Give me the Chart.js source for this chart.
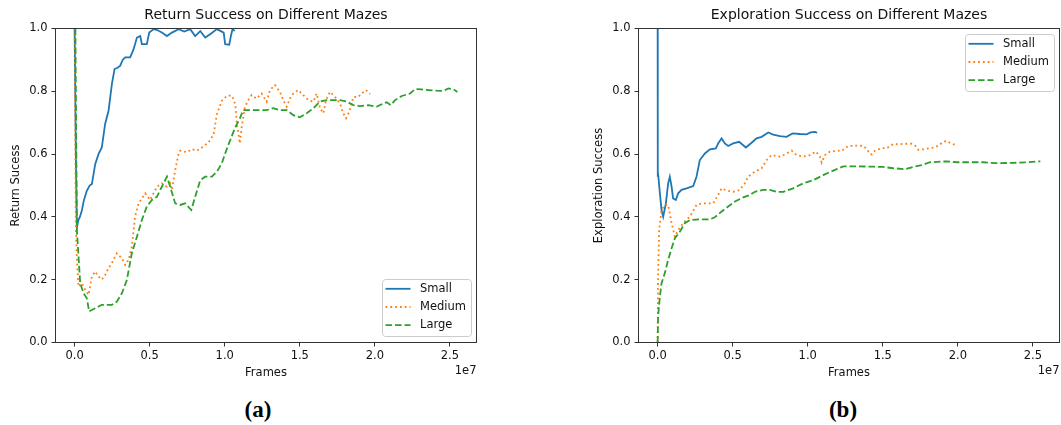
<!DOCTYPE html>
<html>
<head>
<meta charset="utf-8">
<script src="https://cdn.jsdelivr.net/npm/chart.js@4"></script>
<style>
    html, body { margin: 0; padding: 0; background: #fff; }
    body { width: 1061px; height: 425px; position: relative; overflow: hidden; }
    .panel { position: absolute; top: 0; height: 395px; }
    .caption {
        position: absolute; top: 396px; width: 60px; margin-left: -30px;
        text-align: center; font-family: 'Liberation Serif', serif; font-weight: bold;
        font-size: 23px; line-height: 28px; color: #000;
    }
</style>
</head>
<body>
<div class="panel" style="left:0;width:530px"><canvas id="returnChart" width="530" height="395"></canvas></div>
<div class="panel" style="left:530px;width:531px"><canvas id="exploreChart" width="531" height="395"></canvas></div>
<div class="caption" style="left:258px">(a)</div>
<div class="caption" style="left:843px">(b)</div>
<script>
// x values are frames in units of 1e7
const X_TICKS = [0, 0.5, 1.0, 1.5, 2.0, 2.5];
const Y_TICKS = [0, 0.2, 0.4, 0.6, 0.8, 1.0];
const SERIES_NAMES = ["Small", "Medium", "Large"];

const RET_SMALL = [
    [0, 1.0], [0.008, 0.6], [0.015, 0.367], [0.025, 0.39], [0.035, 0.40], [0.048, 0.42], [0.06, 0.45],
    [0.081, 0.483], [0.1, 0.50], [0.115, 0.505], [0.137, 0.568], [0.159, 0.60], [0.181, 0.621],
    [0.203, 0.696], [0.226, 0.738], [0.248, 0.823], [0.266, 0.871], [0.285, 0.875], [0.303, 0.881],
    [0.32, 0.90], [0.337, 0.908], [0.37, 0.908], [0.393, 0.934], [0.415, 0.971], [0.437, 0.976],
    [0.448, 0.95], [0.481, 0.95], [0.497, 0.987], [0.526, 0.998], [0.55, 0.995], [0.581, 0.987],
    [0.615, 0.976], [0.648, 0.987], [0.693, 0.998], [0.73, 0.99], [0.77, 0.998], [0.803, 0.976],
    [0.837, 0.992], [0.87, 0.971], [0.903, 0.982], [0.948, 0.998], [0.993, 0.987], [1.003, 0.95],
    [1.03, 0.948], [1.041, 0.976], [1.052, 0.998], [1.066, 0.992],
];
const RET_MEDIUM = [
    [0, 1.0], [0.008, 0.369], [0.015, 0.263], [0.026, 0.178], [0.048, 0.189], [0.07, 0.168],
    [0.093, 0.152], [0.115, 0.21], [0.137, 0.226], [0.159, 0.21], [0.181, 0.2], [0.203, 0.215],
    [0.226, 0.237], [0.248, 0.253], [0.281, 0.284], [0.315, 0.268], [0.337, 0.247], [0.359, 0.263],
    [0.381, 0.305], [0.403, 0.401], [0.426, 0.443], [0.47, 0.475], [0.503, 0.454], [0.548, 0.496],
    [0.581, 0.507], [0.615, 0.496], [0.637, 0.507], [0.648, 0.486], [0.67, 0.549], [0.693, 0.602],
    [0.703, 0.611], [0.748, 0.606], [0.781, 0.616], [0.815, 0.611], [0.848, 0.621], [0.893, 0.637],
    [0.926, 0.664], [0.948, 0.728], [0.981, 0.77], [1.015, 0.786], [1.048, 0.786], [1.07, 0.759],
    [1.081, 0.696], [1.101, 0.634], [1.113, 0.687], [1.135, 0.751], [1.157, 0.772], [1.179, 0.788],
    [1.213, 0.777], [1.246, 0.793], [1.279, 0.767], [1.301, 0.804], [1.335, 0.82], [1.368, 0.798],
    [1.39, 0.772], [1.413, 0.751], [1.435, 0.777], [1.457, 0.793], [1.49, 0.804], [1.523, 0.788],
    [1.557, 0.772], [1.59, 0.767], [1.613, 0.793], [1.635, 0.746], [1.657, 0.73], [1.675, 0.772],
    [1.701, 0.798], [1.735, 0.782], [1.768, 0.761], [1.79, 0.73], [1.808, 0.714], [1.83, 0.735],
    [1.857, 0.782], [1.89, 0.782], [1.913, 0.793], [1.941, 0.804], [1.968, 0.791],
];
const RET_LARGE = [
    [0.005, 1.0], [0.015, 0.358], [0.037, 0.189], [0.059, 0.157], [0.081, 0.141], [0.097, 0.099],
    [0.137, 0.109], [0.181, 0.12], [0.248, 0.12], [0.281, 0.13], [0.315, 0.157], [0.348, 0.199],
    [0.381, 0.284], [0.415, 0.337], [0.448, 0.39], [0.481, 0.433], [0.515, 0.454], [0.548, 0.464],
    [0.581, 0.496], [0.615, 0.528], [0.637, 0.496], [0.67, 0.443], [0.703, 0.438], [0.737, 0.443],
    [0.777, 0.422], [0.803, 0.464], [0.837, 0.517], [0.87, 0.528], [0.915, 0.528], [0.948, 0.544],
    [0.981, 0.571], [1.003, 0.602], [1.026, 0.632], [1.07, 0.685], [1.101, 0.714], [1.123, 0.74],
    [1.168, 0.74], [1.235, 0.74], [1.279, 0.74], [1.323, 0.746], [1.368, 0.74], [1.413, 0.74],
    [1.457, 0.724], [1.501, 0.717], [1.546, 0.73], [1.59, 0.746], [1.635, 0.767], [1.679, 0.772],
    [1.735, 0.772], [1.768, 0.772], [1.813, 0.767], [1.857, 0.756], [1.901, 0.753], [1.957, 0.756],
    [2.013, 0.751], [2.057, 0.761], [2.079, 0.765], [2.106, 0.756], [2.135, 0.772], [2.179, 0.785],
    [2.235, 0.793], [2.268, 0.807], [2.313, 0.806], [2.357, 0.804], [2.413, 0.802], [2.457, 0.801],
    [2.49, 0.809], [2.523, 0.807], [2.55, 0.798],
];

const EXP_SMALL = [
    [0, 1.0], [0.001, 0.528], [0.003, 0.539], [0.015, 0.475], [0.026, 0.422], [0.037, 0.401],
    [0.055, 0.443], [0.07, 0.507], [0.081, 0.528], [0.093, 0.496], [0.103, 0.459], [0.121, 0.454],
    [0.137, 0.475], [0.159, 0.486], [0.193, 0.491], [0.237, 0.498], [0.259, 0.528], [0.281, 0.581],
    [0.315, 0.602], [0.348, 0.615], [0.388, 0.618], [0.403, 0.634], [0.426, 0.65], [0.448, 0.634],
    [0.47, 0.626], [0.503, 0.634], [0.543, 0.639], [0.588, 0.621], [0.626, 0.636], [0.659, 0.65],
    [0.693, 0.655], [0.737, 0.669], [0.77, 0.662], [0.815, 0.657], [0.859, 0.655], [0.899, 0.666],
    [0.948, 0.664], [0.993, 0.663], [1.019, 0.669], [1.048, 0.671], [1.063, 0.668],
];
const EXP_MEDIUM = [
    [0, 0.0], [0.003, 0.21], [0.01, 0.358], [0.026, 0.422], [0.048, 0.438], [0.07, 0.438],
    [0.093, 0.38], [0.115, 0.337], [0.137, 0.358], [0.17, 0.38], [0.215, 0.401], [0.259, 0.438],
    [0.293, 0.443], [0.37, 0.443], [0.403, 0.47], [0.426, 0.491], [0.459, 0.484], [0.503, 0.48],
    [0.548, 0.486], [0.581, 0.507], [0.603, 0.528], [0.648, 0.544], [0.693, 0.555], [0.726, 0.581],
    [0.759, 0.597], [0.815, 0.592], [0.859, 0.602], [0.893, 0.611], [0.926, 0.597], [0.97, 0.592],
    [1.015, 0.597], [1.055, 0.608], [1.081, 0.592], [1.093, 0.573], [1.115, 0.597], [1.148, 0.608],
    [1.203, 0.611], [1.226, 0.61], [1.27, 0.626], [1.337, 0.627], [1.37, 0.626], [1.397, 0.615],
    [1.41, 0.602], [1.426, 0.599], [1.448, 0.611], [1.493, 0.619], [1.526, 0.619], [1.548, 0.626],
    [1.575, 0.633], [1.603, 0.631], [1.648, 0.633], [1.693, 0.633], [1.715, 0.627], [1.737, 0.614],
    [1.77, 0.615], [1.815, 0.619], [1.848, 0.621], [1.877, 0.629], [1.899, 0.638], [1.926, 0.642],
    [1.953, 0.634], [1.981, 0.63],
];
const EXP_LARGE = [
    [0, 0.0], [0.003, 0.083], [0.015, 0.146], [0.026, 0.189], [0.048, 0.221], [0.07, 0.263],
    [0.093, 0.3], [0.115, 0.332], [0.148, 0.353], [0.181, 0.38], [0.215, 0.39], [0.281, 0.392],
    [0.348, 0.392], [0.381, 0.399], [0.426, 0.417], [0.47, 0.433], [0.515, 0.449], [0.57, 0.462],
    [0.615, 0.47], [0.648, 0.48], [0.703, 0.486], [0.748, 0.486], [0.793, 0.48], [0.837, 0.48],
    [0.903, 0.491], [0.97, 0.507], [1.037, 0.517], [1.103, 0.533], [1.148, 0.543], [1.193, 0.552],
    [1.237, 0.561], [1.326, 0.561], [1.437, 0.56], [1.503, 0.559], [1.57, 0.555], [1.648, 0.552],
    [1.693, 0.558], [1.759, 0.565], [1.815, 0.574], [1.926, 0.577], [1.993, 0.574], [2.081, 0.574],
    [2.17, 0.574], [2.259, 0.571], [2.37, 0.572], [2.459, 0.574], [2.55, 0.577],
];

const COLORS = {
    small: "#1f77b4",
    medium: "#ff7f0e",
    large: "#2ca02c",
    frame: "#333333",
    text: "#111111",
    legendEdge: "#cccccc",
};
const DASHES = { small: [], medium: [1.8, 3.0], large: [6.6, 2.9] };
const KEYS = ["small", "medium", "large"];
const FONT = "'DejaVu Sans', sans-serif";
const TEXT_SIZE = 11.5;

Chart.defaults.font.family = FONT;
Chart.defaults.color = COLORS.text;

function makeDatasets(series) {
    return series.map((pts, i) => ({
        label: SERIES_NAMES[i],
        data: pts.map(p => ({ x: p[0], y: p[1] })),
        borderColor: COLORS[KEYS[i]],
        borderDash: DASHES[KEYS[i]],
        borderWidth: 1.8,
        pointRadius: 0,
        tension: 0,
        fill: false,
        order: 3 - i, // matplotlib draws the later lines on top
    }));
}

// axes frame, "1e7" offset text and the matplotlib-style legend box
const framePlugin = {
    id: "frame",
    afterDraw(chart, args, opts) {
        const { ctx, chartArea: a } = chart;
        ctx.save();
        ctx.strokeStyle = COLORS.frame;
        ctx.lineWidth = 1;
        ctx.strokeRect(a.left, a.top, a.right - a.left, a.bottom - a.top);

        ctx.fillStyle = COLORS.text;
        ctx.font = TEXT_SIZE + "px " + FONT;
        ctx.textAlign = "right";
        ctx.textBaseline = "middle";
        ctx.fillText("1e7", a.right, a.bottom + 29);

        const w = 89, h = 57, r = 3;
        const x = a.right - 5 - w;
        const y = opts.legend === "lower" ? a.bottom - 6 - h : a.top + 6;
        ctx.beginPath();
        ctx.moveTo(x + r, y);
        ctx.arcTo(x + w, y, x + w, y + h, r);
        ctx.arcTo(x + w, y + h, x, y + h, r);
        ctx.arcTo(x, y + h, x, y, r);
        ctx.arcTo(x, y, x + w, y, r);
        ctx.closePath();
        ctx.fillStyle = "rgba(255,255,255,0.8)";
        ctx.fill();
        ctx.strokeStyle = COLORS.legendEdge;
        ctx.stroke();

        ctx.textAlign = "left";
        chart.data.datasets.forEach((ds, i) => {
            const ry = y + 9.3 + i * 18.2;
            ctx.beginPath();
            ctx.strokeStyle = ds.borderColor;
            ctx.lineWidth = ds.borderWidth;
            ctx.setLineDash(ds.borderDash);
            ctx.moveTo(x + 3, ry);
            ctx.lineTo(x + 28, ry);
            ctx.stroke();
            ctx.setLineDash([]);
            ctx.fillStyle = COLORS.text;
            ctx.fillText(ds.label, x + 37.5, ry);
        });
        ctx.restore();
    },
};

function buildChart(canvasId, title, yTitle, series, o) {
    return new Chart(document.getElementById(canvasId), {
        type: "line",
        data: { datasets: makeDatasets(series) },
        options: {
            responsive: false,
            animation: false,
            devicePixelRatio: 1,
            layout: { padding: { left: 0, right: o.padRight, top: 0, bottom: 0 } },
            plugins: {
                legend: { display: false },
                tooltip: { enabled: false },
                title: {
                    display: true,
                    text: title,
                    fullSize: false,
                    color: COLORS.text,
                    font: { size: 14, weight: "normal" },
                    padding: { top: 6.6, bottom: 5.1 },
                },
                frame: { legend: o.legend },
            },
            scales: {
                x: {
                    type: "linear",
                    min: -0.1275,
                    max: 2.6775,
                    afterBuildTicks: s => { s.ticks = X_TICKS.map(v => ({ value: v })); },
                    afterFit: s => { s.height = 52.5; },
                    ticks: { callback: v => v.toFixed(1), font: { size: TEXT_SIZE }, padding: 3, maxRotation: 0, autoSkip: false },
                    grid: { drawOnChartArea: false, drawTicks: true, tickLength: 4, color: COLORS.frame },
                    border: { display: false },
                    title: { display: true, text: "Frames", font: { size: TEXT_SIZE }, padding: { top: 0, bottom: 15.3 } },
                },
                y: {
                    min: 0,
                    max: 1,
                    afterBuildTicks: s => { s.ticks = Y_TICKS.map(v => ({ value: v })); },
                    afterFit: s => { s.width = o.yWidth; },
                    ticks: { callback: v => v.toFixed(1), font: { size: TEXT_SIZE }, padding: 4, autoSkip: false },
                    grid: { drawOnChartArea: false, drawTicks: true, tickLength: 4, color: COLORS.frame },
                    border: { display: false },
                    title: { display: true, text: yTitle, font: { size: TEXT_SIZE }, padding: { top: o.yTitlePad, bottom: 0 } },
                },
            },
        },
        plugins: [framePlugin],
    });
}

buildChart("returnChart", "Return Success on Different Mazes", "Return Sucess",
    [RET_SMALL, RET_MEDIUM, RET_LARGE],
    { padRight: 53.5, yWidth: 55.5, yTitlePad: 9.1, legend: "lower" });

buildChart("exploreChart", "Exploration Success on Different Mazes", "Exploration Success",
    [EXP_SMALL, EXP_MEDIUM, EXP_LARGE],
    { padRight: 1.5, yWidth: 108.5, yTitlePad: 62.1, legend: "upper" });
</script>
</body>
</html>
